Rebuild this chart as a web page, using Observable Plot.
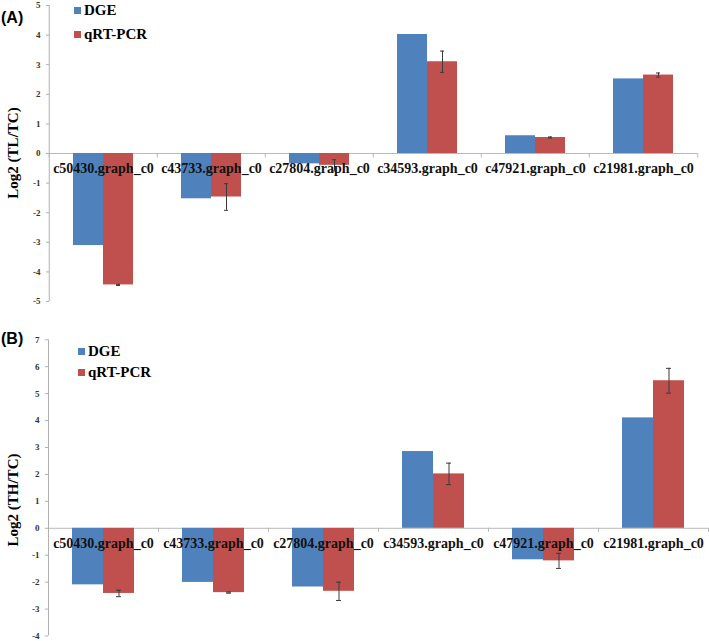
<!DOCTYPE html>
<html>
<head>
<meta charset="utf-8">
<script src="https://cdn.jsdelivr.net/npm/d3@7"></script>
<script src="https://cdn.jsdelivr.net/npm/@observablehq/plot@0.6"></script>
<style>
  body { margin: 0; background: #fff; }
  #wrap { position: relative; width: 709px; height: 641px; overflow: hidden; background: #fff; }
  .panel { position: absolute; left: 0; }
  .panel svg { overflow: visible; }
  .tag { position: absolute; font-family: "Liberation Sans", Arial, sans-serif; font-weight: bold; font-size: 16px; line-height: 16px; color: #000; }
  .ylab { position: absolute; font-family: "Liberation Serif", "Times New Roman", serif; font-weight: bold; font-size: 15px; line-height: 15px; white-space: nowrap; color: #000; transform: translate(-50%, -50%) rotate(-90deg); }
  .leg { position: absolute; font-family: "Liberation Serif", "Times New Roman", serif; font-weight: bold; font-size: 15px; line-height: 15px; white-space: nowrap; color: #000; }
  .leg span.sw { display: inline-block; width: 7px; height: 7px; margin-right: 3px; vertical-align: 1px; }
</style>
</head>
<body>
<div id="wrap"></div>
<script>
// ---- data ----
const categories = ["c50430.graph_c0", "c43733.graph_c0", "c27804.graph_c0", "c34593.graph_c0", "c47921.graph_c0", "c21981.graph_c0"];
const seriesNames = ["DGE", "qRT-PCR"];
const seriesColors = ["#4F81BD", "#C0504D"];

const dgeA  = [-3.11, -1.53, -0.35, 4.02, 0.60, 2.52];
const qpcrA = [-4.44, -1.47, -0.40, 3.10, 0.54, 2.65];
const errA  = [0.02, 0.45, 0.19, 0.36, 0.02, 0.07];
const yTicksA = [-5, -4, -3, -2, -1, 0, 1, 2, 3, 4, 5];

const dgeB  = [-2.10, -2.01, -2.18, 2.85, -1.17, 4.10];
const qpcrB = [-2.42, -2.39, -2.34, 2.02, -1.21, 5.48];
const errB  = [0.12, 0.02, 0.34, 0.40, 0.28, 0.46];
const yTicksB = [-4, -3, -2, -1, 0, 1, 2, 3, 4, 5, 6, 7];

const serif = "Liberation Serif, Times New Roman, serif";

function panel({dge, qpcr, err, yTicks, height, mt, mb, ml, mr, padOuter, labelDy}) {
  const rows = [];
  categories.forEach((c, i) => {
    rows.push({cat: c, series: seriesNames[0], value: dge[i], err: 0});
    rows.push({cat: c, series: seriesNames[1], value: qpcr[i], err: err[i]});
  });
  const qRows = rows.filter(d => d.series === seriesNames[1]);
  const width = 709;
  const fw = (width - ml - mr) / categories.length;
  const yDom = [yTicks[0], yTicks[yTicks.length - 1]];
  return Plot.plot({
    width, height,
    marginTop: mt, marginBottom: mb, marginLeft: ml, marginRight: mr,
    style: {background: "transparent"},
    fx: {domain: categories, padding: 0, axis: null},
    x: {domain: seriesNames, paddingInner: 0, paddingOuter: padOuter, axis: null},
    y: {domain: yDom},
    color: {domain: seriesNames, range: seriesColors},
    marks: [
      Plot.ruleY([0], {stroke: "#b8b8b8", strokeWidth: 1}),
      Plot.barY(rows, {fx: "cat", x: "series", y1: () => 0, y2: "value", fill: "series"}),
      Plot.ruleX(qRows, {fx: "cat", x: "series", y1: d => d.value - d.err, y2: d => d.value + d.err, stroke: "#3a3a3a", strokeWidth: 1}),
      Plot.tickY(qRows, {fx: "cat", x: "series", y: d => d.value + d.err, stroke: "#3a3a3a", strokeWidth: 1, insetLeft: 13, insetRight: 13}),
      Plot.tickY(qRows, {fx: "cat", x: "series", y: d => d.value - d.err, stroke: "#3a3a3a", strokeWidth: 1, insetLeft: 13, insetRight: 13}),
      // category separators on the zero line
      Plot.ruleX(categories, {fx: d => d, x: null, y1: () => 0, y2: () => -0.15, dx: -fw / 2, stroke: "#b8b8b8"}),
      Plot.ruleX(categories.slice(-1), {fx: d => d, x: null, y1: () => 0, y2: () => -0.15, dx: fw / 2, stroke: "#b8b8b8"}),
      // y axis line
      Plot.ruleX(categories.slice(0, 1), {fx: d => d, x: null, y1: () => yDom[0], y2: () => yDom[1], dx: -fw / 2, stroke: "#b0b0b0"}),
      Plot.axisY(yTicks, {tickSize: 3, tickPadding: 6, tickFormat: d => String(d), fontSize: 9, fontWeight: "bold", fontFamily: serif, stroke: "#b0b0b0", fill: "#333", label: null}),
      Plot.text(categories, {fx: d => d, y: () => 0, text: d => d, dy: labelDy, fontSize: 14, fontWeight: "bold", fontFamily: serif, fill: "#111"})
    ]
  });
}

const wrap = document.getElementById("wrap");

const pa = panel({dge: dgeA, qpcr: qpcrA, err: errA, yTicks: yTicksA, height: 320, mt: 5, mb: 19, ml: 47, mr: 11, padOuter: 0.75, labelDy: 15});
const da = document.createElement("div"); da.className = "panel"; da.style.top = "0px"; da.appendChild(pa); wrap.appendChild(da);

const pb = panel({dge: dgeB, qpcr: qpcrB, err: errB, yTicks: yTicksB, height: 321, mt: 19.3, mb: 5.5, ml: 48, mr: 1, padOuter: 0.77, labelDy: 15.5});
const db = document.createElement("div"); db.className = "panel"; db.style.top = "320px"; db.appendChild(pb); wrap.appendChild(db);

function addHTML(cls, html, left, top) {
  const el = document.createElement("div");
  el.className = cls; el.innerHTML = html;
  el.style.left = left + "px"; el.style.top = top + "px";
  wrap.appendChild(el);
  return el;
}
addHTML("tag", "(A)", 1, 10);
addHTML("tag", "(B)", 1, 331);
addHTML("ylab", "Log2 (TL/TC)", 13, 153);
addHTML("ylab", "Log2 (TH/TC)", 13, 500);
const legA = [[74, 3], [74, 27]];
const legB = [[78, 344], [78, 365]];
seriesNames.forEach((s, i) => {
  addHTML("leg", `<span class="sw" style="background:${seriesColors[i]}"></span>${s}`, legA[i][0], legA[i][1]);
  addHTML("leg", `<span class="sw" style="background:${seriesColors[i]}"></span>${s}`, legB[i][0], legB[i][1]);
});
</script>
</body>
</html>
